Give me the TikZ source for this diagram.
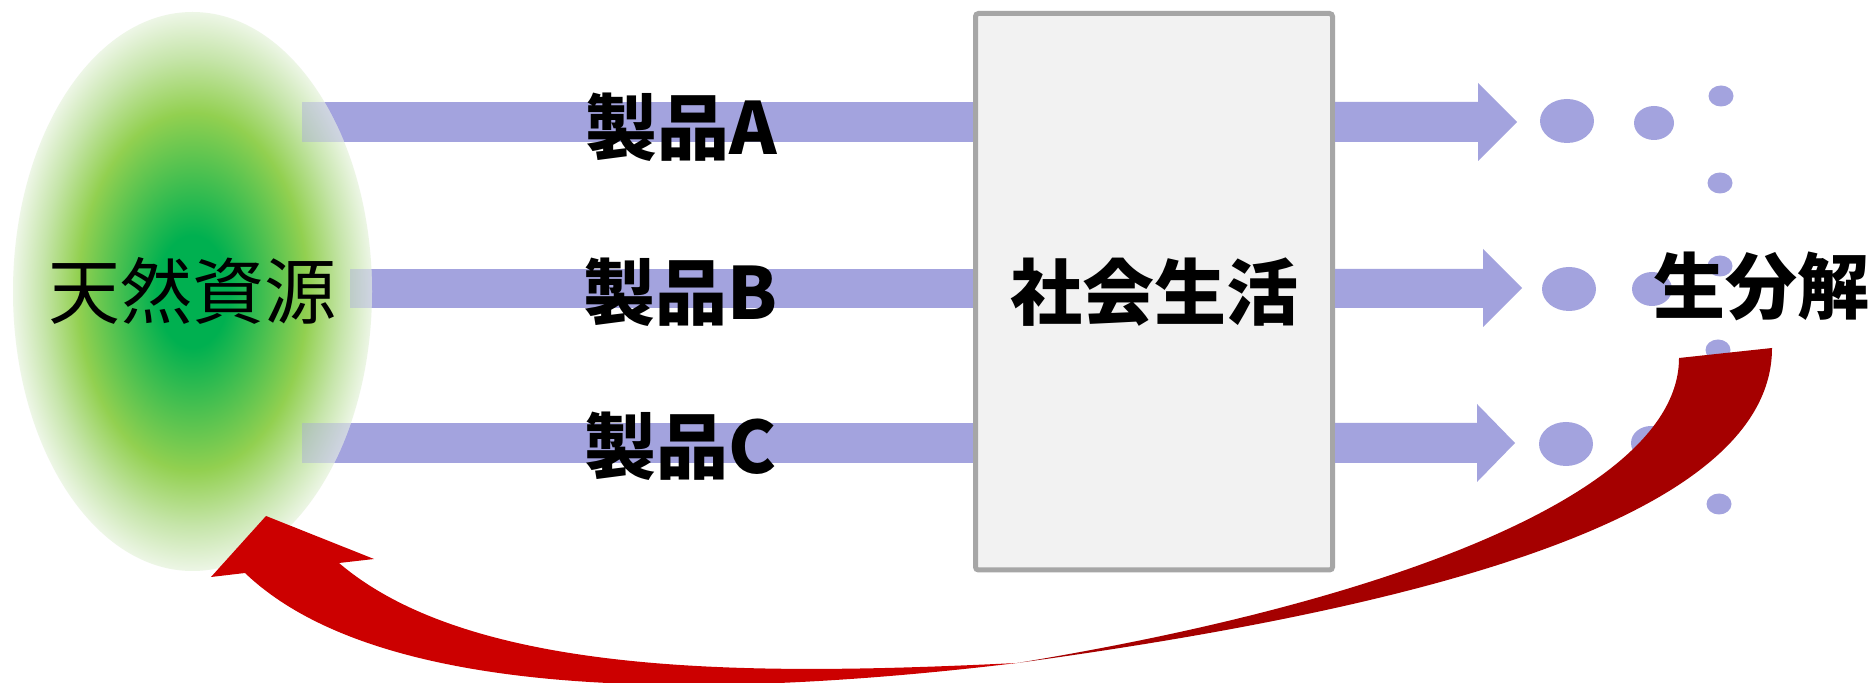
\documentclass[tikz,border=0pt]{standalone}
\usepackage{fontspec}
\IfFontExistsTF{Noto Sans CJK JP Black}
  {\newfontfamily\jp{Noto Sans CJK JP}[BoldFont={Noto Sans CJK JP Black}]}
  {\newfontfamily\jp{Noto Sans CJK JP}[BoldFont={Noto Sans CJK JP Bold}]}
\usetikzlibrary{shapes.geometric}
\definecolor{barc}{HTML}{A3A3DE}
\definecolor{boxfill}{HTML}{F2F2F2}
\definecolor{boxline}{HTML}{A6A6A6}
\definecolor{gA}{HTML}{00B050}
\definecolor{gB}{HTML}{92D050}
\definecolor{gM}{HTML}{C6E5AA}
\definecolor{gC}{HTML}{EDF6E6}
\definecolor{rbright}{HTML}{CC0000}
\definecolor{rdark}{HTML}{A50000}
\pgfdeclareradialshading{resshade}{\pgfpoint{0bp}{0bp}}{color(0bp)=(gA); color(5bp)=(gA); color(16bp)=(gB); color(21bp)=(gM); color(25bp)=(gC); color(50bp)=(gC)}
\begin{document}
\begin{tikzpicture}[x=0.5pt, y=-0.5pt,
  bigfont/.style={font={\jp\fontsize{36pt}{40pt}\selectfont}},
  boldfont/.style={font={\jp\bfseries\fontsize{36pt}{40pt}\selectfont}},
  lab/.style={boldfont, inner sep=0pt},
  bar/.style={fill=barc},
  dot/.style={fill=barc}]
\fill[white] (0,0) rectangle (1874,683);
\clip (0,0) rectangle (1874,683);
\useasboundingbox (0,0) rectangle (1874,683);

% bars from the resource to society
\fill[bar] (302,102) rectangle (975,142);
\fill[bar] (350,269) rectangle (975,308);
\fill[bar] (302,423) rectangle (975,463);

% natural resources ellipse
\shade[shading=resshade] (192.5,291.5) ellipse [x radius=179.5, y radius=279.5];
\begin{scope}
  \clip (192.5,291.5) ellipse [x radius=179.5, y radius=279.5];
  \fill[bar, fill opacity=0.4] (302,102) rectangle (975,142);
  \fill[bar, fill opacity=0.4] (350,269) rectangle (975,308);
  \fill[bar, fill opacity=0.4] (302,423) rectangle (975,463);
\end{scope}
\node[bigfont, inner sep=0pt] (res) at (192.5,291) {天然資源};

% society box
\node[draw=boxline, fill=boxfill, line width=2.5pt, rounded corners=1.5pt,
      minimum width=178.5pt, minimum height=278.25pt, inner sep=0pt,
      boldfont] (soc) at (1154,291.75) {社会生活};

% product labels
\node[lab] (pa) at (681,127) {製品A};
\node[lab] (pb) at (681,292) {製品B};
\node[lab] (pc) at (681,446) {製品C};

% arrows out of society
\fill[bar] (soc.east |- 0,102) -- (1478,102) -- (1478,83) -- (1517,122) -- (1478,161) -- (1478,142) -- (soc.east |- 0,142) -- cycle;
\fill[bar] (soc.east |- 0,269) -- (1483,269) -- (1483,249) -- (1522,288) -- (1483,327) -- (1483,308) -- (soc.east |- 0,308) -- cycle;
\fill[bar] (soc.east |- 0,423) -- (1477,423) -- (1477,404) -- (1515,443) -- (1477,482) -- (1477,463) -- (soc.east |- 0,463) -- cycle;

% fragments
\fill[dot] (1567,121) ellipse [x radius=27, y radius=22];
\fill[dot] (1654,123) ellipse [x radius=20, y radius=17];
\fill[dot] (1721,96) ellipse [x radius=12.5, y radius=10.5];
\fill[dot] (1720,183) ellipse [x radius=12.5, y radius=10.5];
\fill[dot] (1569,289) ellipse [x radius=27, y radius=22];
\fill[dot] (1652,289) ellipse [x radius=20, y radius=17];
\fill[dot] (1720,266) ellipse [x radius=12.5, y radius=10.5];
\fill[dot] (1718,350) ellipse [x radius=12.5, y radius=10.5];
\fill[dot] (1566,444) ellipse [x radius=27, y radius=22];
\fill[dot] (1651,443) ellipse [x radius=20, y radius=17];
\fill[dot] (1719,504) ellipse [x radius=12.5, y radius=10.5];

\node[lab] (bio) at (1761,286) {生分解};

% curved return arrow: back face (dark) and front face (bright)
\coordinate (pinch) at (1017,663);
\coordinate (tailin) at (1679,358);
\coordinate (tailout) at (1772,348);
\fill[rdark] (tailin) -- (tailout)
  .. controls (1772,518) and (1420,608) .. (pinch)
  .. controls (1400,600) and (1679,490) .. (tailin) -- cycle;
\coordinate (tip) at (266,516);
\coordinate (barbr) at (374,559);
\coordinate (joinin) at (339,563);
\coordinate (joinout) at (245,573);
\coordinate (barbl) at (211,577);
\fill[rbright] (tip) -- (barbr) -- (joinin)
  .. controls (476,680) and (767,675) .. (pinch)
  .. controls (717,699) and (382,704) .. (joinout)
  -- (barbl) -- cycle;
\end{tikzpicture}
\end{document}
